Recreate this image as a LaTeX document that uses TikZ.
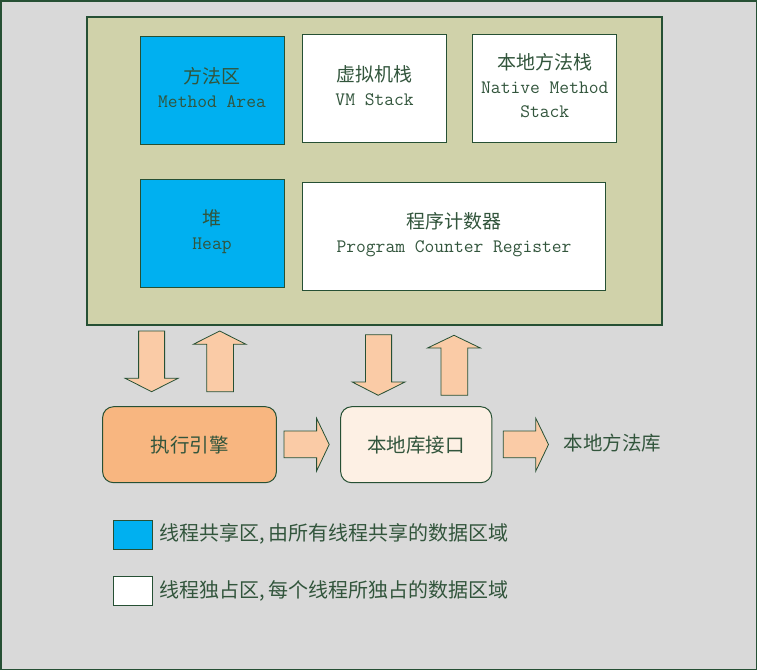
\documentclass[tikz,border=0pt]{standalone}
\usepackage{fontspec}
\newfontfamily\cjk{Noto Sans CJK SC}
\setmonofont{Latin Modern Mono}
\definecolor{bgcol}{RGB}{217,217,217}
\definecolor{panelcol}{RGB}{208,210,170}
\definecolor{bordercol}{RGB}{38,80,52}
\definecolor{txtcol}{RGB}{50,85,60}
\definecolor{bluecol}{RGB}{0,176,240}
\definecolor{orangecol}{RGB}{248,182,128}
\definecolor{lightcol}{RGB}{253,240,228}
\definecolor{arrowcol}{RGB}{250,203,166}
\tikzset{
  box/.style={draw=bordercol, line width=1pt, inner sep=0pt, align=center,
    text=txtcol, font=\fontsize{19}{24}\selectfont},
  shared/.style={box, fill=bluecol},
  private/.style={box, fill=white},
  boxtext/.style={inner sep=0pt, align=center, text=txtcol, font=\fontsize{19}{24}\selectfont},
  fatarrow/.style={draw=bordercol, line width=0.8pt, fill=arrowcol, line join=miter},
  plain/.style={text=txtcol, inner sep=0pt, font=\fontsize{20}{24}\selectfont\cjk},
}
\begin{document}
\begin{tikzpicture}[x=1pt,y=-1pt]
\useasboundingbox (0,0) rectangle (757,670);
\fill[bgcol] (0,0) rectangle (757,670);
\draw[bordercol, line width=1.5pt] (0.75,0.75) rectangle (756.25,669.25);
% panel
\node[draw=bordercol, line width=1.2pt, fill=panelcol, inner sep=0pt,
  minimum width=575pt, minimum height=308pt] (panel) at (374.5,171) {};
% runtime areas
\node[shared, minimum width=144pt, minimum height=107.6pt] (method) at (212,90.5) {};
\node[boxtext] (methodtxt) at ([yshift=2.5pt]method.center)
  {{\cjk 方法区}\\{\ttfamily Method Area}};
\node[private, minimum width=144.3pt, minimum height=108pt] (vm) at (374.6,88.3) {};
\node[boxtext] (vmtxt) at ([yshift=2.5pt]vm.center)
  {{\cjk 虚拟机栈}\\{\ttfamily VM Stack}};
\node[private, minimum width=143.9pt, minimum height=108pt] (native) at (544.8,88.3) {};
\node[boxtext] (nativetxt) at ([yshift=2.5pt]native.center)
  {{\cjk 本地方法栈}\\{\ttfamily Native Method}\\{\ttfamily Stack}};
\node[shared, minimum width=144pt, minimum height=107.7pt] (heap) at (212,233.8) {};
\node[boxtext] (heaptxt) at ([yshift=2pt]heap.center)
  {{\cjk 堆}\\{\ttfamily Heap}};
\node[private, minimum width=302.9pt, minimum height=108pt] (pc) at (454,236.7) {};
\node[boxtext] (pctxt) at ([yshift=2pt]pc.center)
  {{\cjk 程序计数器}\\{\ttfamily Program Counter Register}};
% engine and native interface
\node[box, fill=orangecol, rounded corners=11pt, minimum width=173.8pt, minimum height=76pt,
  font=\fontsize{19.5}{24}\selectfont\cjk] (engine) at (189.5,444.7) {执行引擎};
\node[box, fill=lightcol, rounded corners=11pt, minimum width=151.1pt, minimum height=76pt,
  font=\fontsize{19.5}{24}\selectfont\cjk] (jni) at (416.2,444.7) {本地库接口};
\node[plain, anchor=west, font=\fontsize{19.5}{24}\selectfont\cjk] (nlib) at (563.4,443.5) {本地方法库};
% vertical arrows
\draw[fatarrow] (138.6,331) -- (164.6,331) -- (164.6,378.3) -- (178,378.3) -- (151.6,391.7)
  -- (125.2,378.3) -- (138.6,378.3) -- cycle;
\draw[fatarrow] (206.7,391.7) -- (233.5,391.7) -- (233.5,344.3) -- (246.1,344.3) -- (219.7,331)
  -- (193.3,344.3) -- (206.7,344.3) -- cycle;
\draw[fatarrow] (365.5,334.7) -- (391.6,334.7) -- (391.6,382) -- (405,382) -- (378.2,395.3)
  -- (352.2,382) -- (365.5,382) -- cycle;
\draw[fatarrow] (441,395.3) -- (467.7,395.3) -- (467.7,348) -- (480.4,348) -- (454,335.3)
  -- (427.5,348) -- (441,348) -- cycle;
% horizontal arrows
\draw[fatarrow] (284,431) -- (316.6,431) -- (316.6,418.3) -- (329.2,444.5) -- (316.6,471)
  -- (316.6,457.7) -- (284,457.7) -- cycle;
\draw[fatarrow] (503.3,431) -- (535.8,431) -- (535.8,418.3) -- (548.5,444.5) -- (535.8,471)
  -- (535.8,457.7) -- (503.3,457.7) -- cycle;
% legend
\node[shared, minimum width=39pt, minimum height=29pt] (lgshared) at (132.8,534.5) {};
\node[plain, anchor=west] (lgsharedtxt) at (159.3,534) {线程共享区,\hspace{3pt}由所有线程共享的数据区域};
\node[private, minimum width=39pt, minimum height=29pt] (lgprivate) at (132.8,591.2) {};
\node[plain, anchor=west] (lgprivatetxt) at (159.3,590.7) {线程独占区,\hspace{3pt}每个线程所独占的数据区域};
\end{tikzpicture}
\end{document}
